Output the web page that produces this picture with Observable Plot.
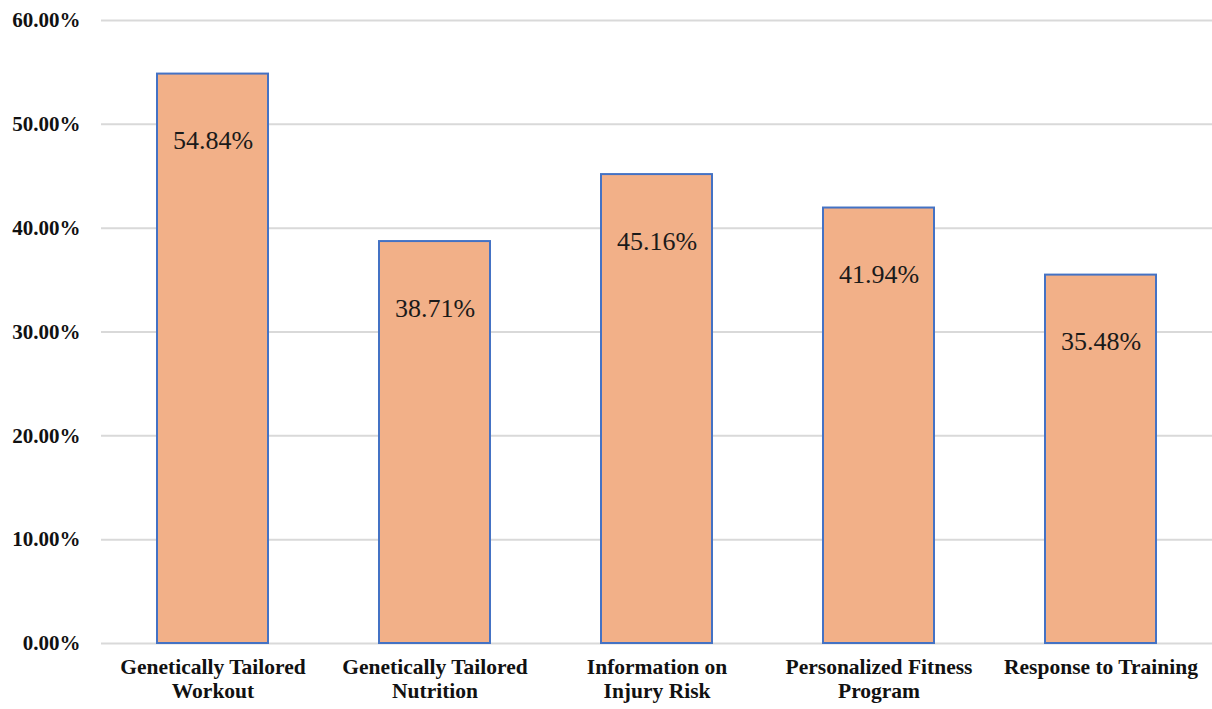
<!DOCTYPE html>
<html>
<head>
<meta charset="utf-8">
<script src="https://cdn.jsdelivr.net/npm/d3@7"></script>
<script src="https://cdn.jsdelivr.net/npm/@observablehq/plot@0.6"></script>
<style>
  html, body { margin: 0; padding: 0; background: #fff; }
  #chart svg { display: block; }
</style>
</head>
<body>
<div id="chart"></div>
<script>
const categories = [
  "Genetically Tailored Workout",
  "Genetically Tailored Nutrition",
  "Information on Injury Risk",
  "Personalized Fitness Program",
  "Response to Training"
];
const tickLabels = [
  "Genetically Tailored\nWorkout",
  "Genetically Tailored\nNutrition",
  "Information on\nInjury Risk",
  "Personalized Fitness\nProgram",
  "Response to Training"
];
const values = [0.5484, 0.3871, 0.4516, 0.4194, 0.3548];
const yTicks = [0, 0.1, 0.2, 0.3, 0.4, 0.5, 0.6];

const data = categories.map((c, i) => ({category: c, value: values[i], label: tickLabels[i]}));
const labelOf = new Map(data.map(d => [d.category, d.label]));
const pct = d3.format(".2%");
const serif = "'Liberation Serif', 'Times New Roman', serif";

const chart = Plot.plot({
  width: 1212,
  height: 709,
  marginTop: 20,
  marginBottom: 66,
  marginLeft: 101,
  marginRight: 0,
  style: {fontFamily: serif, background: "#fff"},
  x: {domain: categories, paddingInner: 0.5, paddingOuter: 0.25, label: null},
  y: {domain: [0, 0.6], label: null},
  marks: [
    Plot.gridY(yTicks, {stroke: "#d9d9d9", strokeOpacity: 1, strokeWidth: 2}),
    Plot.barY(data, {x: "category", y: "value", fill: "#f2b088", stroke: "#4472c4", strokeWidth: 2}),
    Plot.text(data, {x: "category", y: "value", text: d => pct(d.value), dy: 67, fontSize: 26, fontFamily: serif, fill: "#1a1a1a"}),
    Plot.axisY({ticks: yTicks, tickFormat: pct, tickSize: 0, tickPadding: 21, fontSize: 21, fontWeight: "bold", fontFamily: serif, fill: "#111"}),
    Plot.axisX({tickSize: 0, tickPadding: 14, tickFormat: d => labelOf.get(d), fontSize: 21.5, fontWeight: "bold", fontFamily: serif, lineHeight: 1.1, fill: "#111"})
  ]
});
document.getElementById("chart").append(chart);
</script>
</body>
</html>
